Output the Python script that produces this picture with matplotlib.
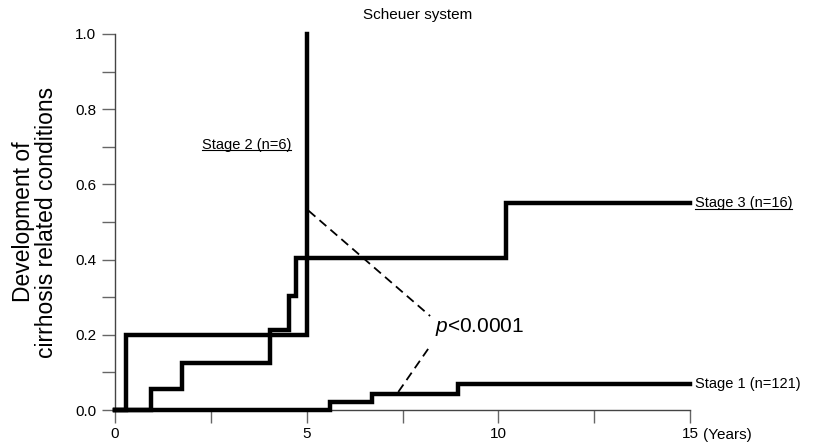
import numpy as np
import matplotlib.pyplot as plt
from matplotlib.ticker import MultipleLocator
from matplotlib.lines import Line2D

plt.rcParams['font.family'] = ['Liberation Sans', 'DejaVu Sans']
plt.rcParams['mathtext.fontset'] = 'custom'
plt.rcParams['mathtext.rm'] = 'Liberation Sans'
plt.rcParams['mathtext.it'] = 'Liberation Sans:italic'

# === Data ===
stage1_t = [0, 5.6, 6.7, 8.95, 15]
stage1_y = [0, 0.021, 0.043, 0.069, 0.069]

stage2_t = [0, 0.28, 5.0]
stage2_y = [0, 0.2, 1.0]

stage3_t = [0, 0.93, 1.76, 4.05, 4.55, 4.72, 10.2, 15]
stage3_y = [0, 0.056, 0.125, 0.213, 0.303, 0.404, 0.55, 0.55]

# dashed connector lines to the p-value
dash_a_x = [5.05, 8.22]
dash_a_y = [0.53, 0.25]
dash_b_x = [7.39, 8.22]
dash_b_y = [0.048, 0.17]

fig = plt.figure(figsize=(8.13, 4.48), dpi=100)
ax = fig.add_axes([115/813, 38/448, 575/813, 376/448])

for t, y in [(stage1_t, stage1_y), (stage2_t, stage2_y), (stage3_t, stage3_y)]:
    ax.step(t, y, where='post', color='black', lw=3.2, clip_on=False,
            solid_joinstyle='miter', zorder=3)

ax.plot(dash_a_x, dash_a_y, color='black', lw=1.3, ls=(0, (5, 3)))
ax.plot(dash_b_x, dash_b_y, color='black', lw=1.3, ls=(0, (5, 3)))

ax.text(8.35, 0.22, r'$\mathit{p}$<0.0001', fontsize=15, va='center', ha='left')

ax.text(15.13, 0.069, 'Stage 1 (n=121)', fontsize=10.5, va='center', ha='left')
lab3 = ax.text(15.13, 0.55, 'Stage 3 (n=16)', fontsize=10.5, va='center', ha='left')
lab2 = ax.text(2.27, 0.705, 'Stage 2 (n=6)', fontsize=10.5, va='center', ha='left')

ax.set_xlim(0, 15)
ax.set_ylim(0, 1.0)
ax.xaxis.set_major_locator(MultipleLocator(5))
ax.xaxis.set_minor_locator(MultipleLocator(2.5))
ax.yaxis.set_major_locator(MultipleLocator(0.2))
ax.yaxis.set_minor_locator(MultipleLocator(0.1))
ax.yaxis.set_major_formatter(plt.FuncFormatter(lambda v, p: f'{v:.1f}'))

for s in ['top', 'right']:
    ax.spines[s].set_visible(False)
for s in ['left', 'bottom']:
    ax.spines[s].set_color('#444444')
    ax.spines[s].set_linewidth(1.0)

ax.tick_params(which='both', direction='out', length=9.5, width=1.0,
               color='#666666', labelsize=11)
ax.tick_params(axis='y', pad=4)
ax.tick_params(axis='x', pad=3)

ax.text(15.34, -0.066, '(Years)', fontsize=11, va='center', ha='left',
        clip_on=False)

ax.set_ylabel('Development of\ncirrhosis related conditions', fontsize=16.5,
              linespacing=1.0)
ax.yaxis.set_label_coords(-0.099, 0.5)

fig.text(418/813, 1 - 15/448, 'Scheuer system', fontsize=11, ha='center',
         va='center')

# underline the Stage 2 / Stage 3 labels
fig.canvas.draw()
renderer = fig.canvas.get_renderer()
for lab in (lab2, lab3):
    bb = lab.get_window_extent(renderer)
    yline = bb.y0 + 1.5
    fig.add_artist(Line2D([bb.x0, bb.x1], [yline, yline], color='black', lw=0.8,
                          transform=None))

fig.savefig('out.png', dpi=100)
